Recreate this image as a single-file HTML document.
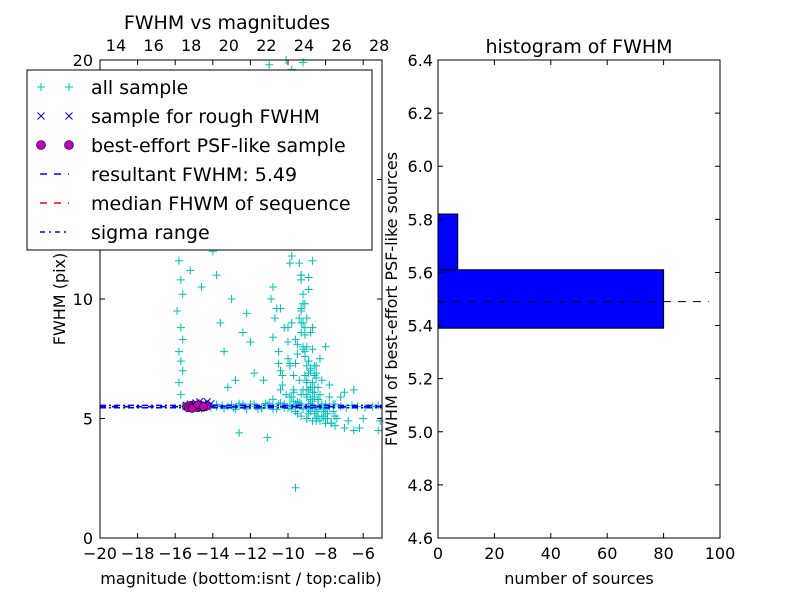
<!DOCTYPE html>
<html><head><meta charset="utf-8"><style>
body{margin:0;background:#fff}
svg{display:block;font-family:"DejaVu Sans","Liberation Sans",sans-serif}
</style></head><body>
<svg id="fig" width="800" height="600" viewBox="0 0 800 600">
<rect width="800" height="600" fill="#fff"/>
<g id="left"></g>
<g id="right"></g>
</svg>
<script>
// ---- scatter data ----
const allMag = [-15.6,-15.3,-15.0,-14.7,-14.4,-14.1,-13.8,-13.5,-13.2,-12.9,-12.6,-12.3,-12.0,-11.7,-11.4,-11.1,-10.8,-10.5,-10.2,-9.9,-9.6,-9.3,-9.0,-8.7,-8.4,-8.1,-7.8,-7.5,-7.2,-6.9,-6.6,-6.3,-5.9,-5.5,-5.2,
 -15.7,-15.8,-15.6,-15.7,-15.8,-15.6,-15.7,-15.9,-15.6,-15.7,-15.8,-15.5,-15.6,-15.8,-15.7,-15.2,-14.9,-14.6,-14.4,-13.6,
 -15.0,-14.5,-13.8,-13.0,-12.2,-12.0,-11.5,-11.0,-10.8,-10.5,-10.0,-9.9,-10.2,-11.2,-10.6,-9.8,-11.0,-12.6,-11.1,-9.6,-7.0,-6.5,-5.1,-5.2,-8.5,-13.4,-12.8,-12.4,-11.8,-10.4,-10.9,-11.6,-14.0,-13.2,-12.1,
 -9.0,-9.1,-8.9,-9.2,-8.8,-9.0,-9.1,-8.9,-9.3,-8.7,-9.0,-9.2,-8.8,-9.1,-8.9,-9.0,-9.3,-8.7,-9.1,-8.9,-9.4,-8.6,-9.0,-9.2,-8.8,-9.5,-9.0,-8.7,-9.3,-8.9,-9.6,-8.5,-9.1,-8.8,-9.8,-9.9,-10.1,-9.4,
 -9.5,-9.0,-8.5,-8.0,-7.5,-7.0,-6.5,-8.8,-8.2,-9.2,-8.6,-8.3,-8.0,-7.8,-8.4,-7.6,-7.2,-9.7,-8.9,-8.1,-7.4,-6.8,-9.3,-8.6,-7.9,-7.7,-8.5,-6.2,-6.0,-10.4,-10.8,-11.3,-9.9,-9.3,-8.7,
 -9.4,-9.3,-9.2,-9.3,-9.4,-9.2,-9.1,-9.3,-9.0,-9.2,-9.1,-9.0,-8.9,-9.1,-9.0,-8.8,-9.2,-8.9,-9.0,-8.8,-9.1,-8.7,-8.9,-9.0,-8.8,-8.6,-8.9,-8.7,-8.5,-8.8,-8.6,-8.4,-8.7,-8.3,-8.5,-8.2,-8.6,-8.1,-8.4,-8.0,
 -9.6,-9.5,-9.7,-9.4,-9.8,-9.6,-9.9,-9.5,-9.3,-9.7,-9.2,-9.4,-9.0,-9.1,-8.9,-9.3,-8.7,-8.8,-8.5,-8.6,-8.3,-8.4,-8.1,-8.2,-7.9,-8.0,-7.7,-7.8,-7.5,-7.6,
 -10.9,-10.7,-10.8,-10.5,-10.6,-10.4,-10.3,-10.2,-10.1,-10.0,-9.9,-9.8,-10.3,-10.0,-9.7,-9.9,
 -13.0,-12.6,-12.2,-11.8,-11.4,-11.0,-10.6,-10.2,-9.8,-9.4,-13.4,-12.8,-12.4,-11.6,-11.2,-10.8,-10.4,-10.0,-9.6,-9.2,-8.8,-8.4,-8.0,-14.6,-14.2,-13.8,-15.4,-15.1];
const allFwhm = [5.5,5.55,5.45,5.5,5.6,5.45,5.5,5.55,5.5,5.45,5.55,5.5,5.6,5.5,5.45,5.55,5.5,5.6,5.45,5.55,5.5,5.6,5.45,5.5,5.55,5.45,5.5,5.6,5.5,5.45,5.55,5.5,5.45,5.5,5.55,
 6.0,6.5,7.0,7.4,7.8,8.3,8.8,9.5,10.2,10.8,11.6,12.5,13.1,14.6,16.0,11.2,12.8,10.5,13.8,9.0,
 14.2,15.5,11.0,10.0,9.4,8.2,12.4,13.8,10.5,7.3,8.8,11.5,14.8,16.2,18.5,19.6,19.8,4.4,4.2,2.1,6.1,6.2,4.9,4.5,13.3,7.8,6.6,8.6,6.9,9.6,15.0,17.4,12.0,6.3,19.0,
 6.2,6.8,7.4,8.0,8.6,9.2,9.8,10.4,11.0,11.6,12.2,12.8,13.4,14.0,14.6,15.2,15.8,16.4,17.0,17.6,18.2,18.8,19.4,19.9,7.1,7.7,6.5,7.9,9.5,10.9,8.3,6.7,13.0,15.8,11.8,17.5,20.0,12.5,
 5.2,5.0,4.9,4.8,4.7,4.6,4.5,5.3,5.1,6.2,6.8,7.5,8.0,6.4,5.8,5.6,5.9,5.7,5.4,5.3,5.0,4.9,6.0,6.1,5.2,4.8,7.2,4.6,5.0,6.2,5.8,6.6,7.3,9.0,8.8,
 11.5,10.8,10.2,9.6,12.2,9.0,8.5,11.0,8.0,9.8,7.6,7.2,6.9,8.8,6.6,6.3,7.9,7.4,6.0,7.0,6.8,6.5,6.2,5.9,5.8,7.2,5.6,6.1,6.9,5.5,5.9,6.3,5.7,6.0,5.3,5.6,5.2,5.4,5.1,5.0,
 5.3,5.7,6.1,6.6,5.9,7.3,5.5,8.1,5.1,6.8,5.4,9.2,5.0,7.8,5.2,8.6,4.9,5.5,5.0,6.3,4.9,5.8,5.1,6.6,5.0,5.4,4.8,5.9,5.1,5.3,
 10.0,9.2,8.4,7.8,9.6,7.0,6.4,8.8,6.0,7.5,5.9,9.0,6.8,8.2,6.2,7.2,
 5.58,5.62,5.4,5.6,5.42,5.64,5.38,5.62,5.4,5.65,5.42,5.38,5.6,5.4,5.62,5.38,5.65,5.42,5.6,5.4,5.62,5.38,5.6,5.4,5.62,5.58,5.42,5.6];
const roughMag = [-15.2,-14.9,-14.7,-14.5,-14.3,-15.4,-14.1];
const roughFwhm = [5.6,5.65,5.7,5.6,5.7,5.55,5.62];
const psfMag = [-15.4,-15.3,-15.2,-15.1,-15.0,-14.9,-14.8,-14.7,-14.6,-14.5,-14.4,-14.3,-15.1,-14.8,-14.5];
const psfFwhm = [5.5,5.45,5.55,5.5,5.48,5.52,5.45,5.5,5.55,5.47,5.5,5.52,5.42,5.58,5.5];
const resultFwhm = 5.49, medianFwhm = 5.5, sigmaLo = 5.45, sigmaHi = 5.55;
const xTicksBottom = [-20,-18,-16,-14,-12,-10,-8,-6];
const xTicksTop = [14,16,18,20,22,24,26,28];
const yTicksLeft = [0,5,10,15,20];
// ---- histogram data ----
const binLo = [5.39,5.61];
const binHi = [5.61,5.82];
const binCount = [80,7];
const histXTicks = [0,20,40,60,80,100];
const histYTicks = [4.6,4.8,5.0,5.2,5.4,5.6,5.8,6.0,6.2,6.4];

const NS='http://www.w3.org/2000/svg';
function mk(p,t,a,txt){const e=document.createElementNS(NS,t);for(const k in a)e.setAttribute(k,a[k]);if(txt!==undefined)e.textContent=txt;p.appendChild(e);return e;}

const L={x0:100,x1:382,y0:538,y1:60};
const lx=v=>L.x0+(v+20)/15*(L.x1-L.x0);
const ly=v=>L.y0-v/20*(L.y0-L.y1);
const topOffset=33.15;
const gl=document.getElementById('left');
const pts=mk(gl,'g',{});


for(let i=0;i<allMag.length;i++){const x=lx(allMag[i]),y=ly(allFwhm[i]);
 const p=mk(pts,'path',{d:`M${x-4},${y}h8M${x},${y-4}v8`,stroke:'#00bfbf','stroke-width':1});
 
 }
const hl=(v,c,da,n)=>{const e=mk(gl,'line',{x1:L.x0,x2:L.x1,y1:ly(v),y2:ly(v),stroke:c,'stroke-width':1.5,'stroke-dasharray':da});
 
 };
hl(medianFwhm,'#f00','6,6','median-fwhm-line');
hl(resultFwhm,'#00f','6,6','resultant-fwhm-line');
hl(sigmaLo,'#00f','6,3,2,3','sigma-low-line');
hl(sigmaHi,'#00f','6,3,2,3','sigma-high-line');
for(let i=0;i<roughMag.length;i++){const x=lx(roughMag[i]),y=ly(roughFwhm[i]);
 const e=mk(gl,'path',{d:`M${x-3.5},${y-3.5}l7,7M${x-3.5},${y+3.5}l7,-7`,stroke:'#00f','stroke-width':1});
 
 }
for(let i=0;i<psfMag.length;i++){
 const e=mk(gl,'circle',{cx:lx(psfMag[i]),cy:ly(psfFwhm[i]),r:4,fill:'#bf00bf',stroke:'#000','stroke-width':0.6});
 
 }
mk(gl,'rect',{x:L.x0,y:L.y1,width:L.x1-L.x0,height:L.y0-L.y1,fill:'none',stroke:'#000'});
xTicksBottom.forEach(v=>{const x=lx(v);mk(gl,'path',{d:`M${x},${L.y0}v-5M${x},${L.y1}v5`,stroke:'#000'});
 mk(gl,'text',{x:x,y:L.y0+21,'text-anchor':'middle','font-size':16},v<0?'\u2212'+(-v):v);});
xTicksTop.forEach(v=>{const x=lx(v-topOffset);mk(gl,'text',{x:x,y:L.y1-9,'text-anchor':'middle','font-size':16},v);});
yTicksLeft.forEach(v=>{const y=ly(v);mk(gl,'path',{d:`M${L.x0},${y}h5M${L.x1},${y}h-5`,stroke:'#000'});
 mk(gl,'text',{x:L.x0-7,y:y+6,'text-anchor':'end','font-size':16},v);});
mk(gl,'text',{x:227,y:29,'text-anchor':'middle','font-size':19},'FWHM vs magnitudes');
mk(gl,'text',{x:241,y:584,'text-anchor':'middle','font-size':16},'magnitude (bottom:isnt / top:calib)');
mk(gl,'text',{x:65,y:299,'text-anchor':'middle','font-size':16,transform:'rotate(-90 65 299)'},'FWHM (pix)');
const lg=mk(gl,'g',{});


mk(lg,'rect',{x:27,y:70,width:345,height:180,fill:'#fff',stroke:'#000'});
const labels=['all sample','sample for rough FWHM','best-effort PSF-like sample','resultant FWHM: 5.49','median FHWM of sequence','sigma range'];
labels.forEach((t,i)=>{const y=87+i*29;
 if(i==0){[41,69].forEach(x=>mk(lg,'path',{d:`M${x-4},${y}h8M${x},${y-4}v8`,stroke:'#00bfbf'}));}
 if(i==1){[41,69].forEach(x=>mk(lg,'path',{d:`M${x-3.5},${y-3.5}l7,7M${x-3.5},${y+3.5}l7,-7`,stroke:'#00f'}));}
 if(i==2){[41,69].forEach(x=>mk(lg,'circle',{cx:x,cy:y,r:4.5,fill:'#bf00bf',stroke:'#000','stroke-width':0.6}));}
 if(i==3)mk(lg,'line',{x1:40,x2:69,y1:y,y2:y,stroke:'#00f','stroke-width':1.5,'stroke-dasharray':'7,7'});
 if(i==4)mk(lg,'line',{x1:40,x2:69,y1:y,y2:y,stroke:'#f00','stroke-width':1.5,'stroke-dasharray':'7,7'});
 if(i==5)mk(lg,'line',{x1:40,x2:69,y1:y,y2:y,stroke:'#00f','stroke-width':1.5,'stroke-dasharray':'5,4,2,4'});
 const e=mk(lg,'text',{x:91,y:y+7,'font-size':19},t);
 
 });

const R={x0:438,x1:720,y0:538,y1:60};
const rx=v=>R.x0+v/100*(R.x1-R.x0);
const ry=v=>R.y0-(v-4.6)/1.8*(R.y0-R.y1);
const gr=document.getElementById('right');
for(let i=0;i<binCount.length;i++){
 const e=mk(gr,'rect',{x:rx(0),y:ry(binHi[i]),width:rx(binCount[i])-rx(0),height:ry(binLo[i])-ry(binHi[i]),fill:'#00f',stroke:'#000','stroke-width':1});
 
 }
const dl=mk(gr,'line',{x1:rx(0),x2:rx(96),y1:ry(resultFwhm),y2:ry(resultFwhm),stroke:'#000','stroke-dasharray':'8,7','stroke-width':1});


mk(gr,'rect',{x:R.x0,y:R.y1,width:R.x1-R.x0,height:R.y0-R.y1,fill:'none',stroke:'#000'});
histXTicks.forEach(v=>{const x=rx(v);mk(gr,'path',{d:`M${x},${R.y0}v-5M${x},${R.y1}v5`,stroke:'#000'});
 mk(gr,'text',{x:x,y:R.y0+21,'text-anchor':'middle','font-size':16},v);});
histYTicks.forEach(v=>{const y=ry(v);mk(gr,'path',{d:`M${R.x0},${y}h5M${R.x1},${y}h-5`,stroke:'#000'});
 mk(gr,'text',{x:R.x0-5,y:y+6,'text-anchor':'end','font-size':16},v.toFixed(1));});
mk(gr,'text',{x:579,y:53,'text-anchor':'middle','font-size':19},'histogram of FWHM');
mk(gr,'text',{x:579,y:584,'text-anchor':'middle','font-size':16},'number of sources');
mk(gr,'text',{x:397,y:299,'text-anchor':'middle','font-size':16,transform:'rotate(-90 397 299)'},'FWHM of best-effort PSF-like sources');
</script>
</body></html>
